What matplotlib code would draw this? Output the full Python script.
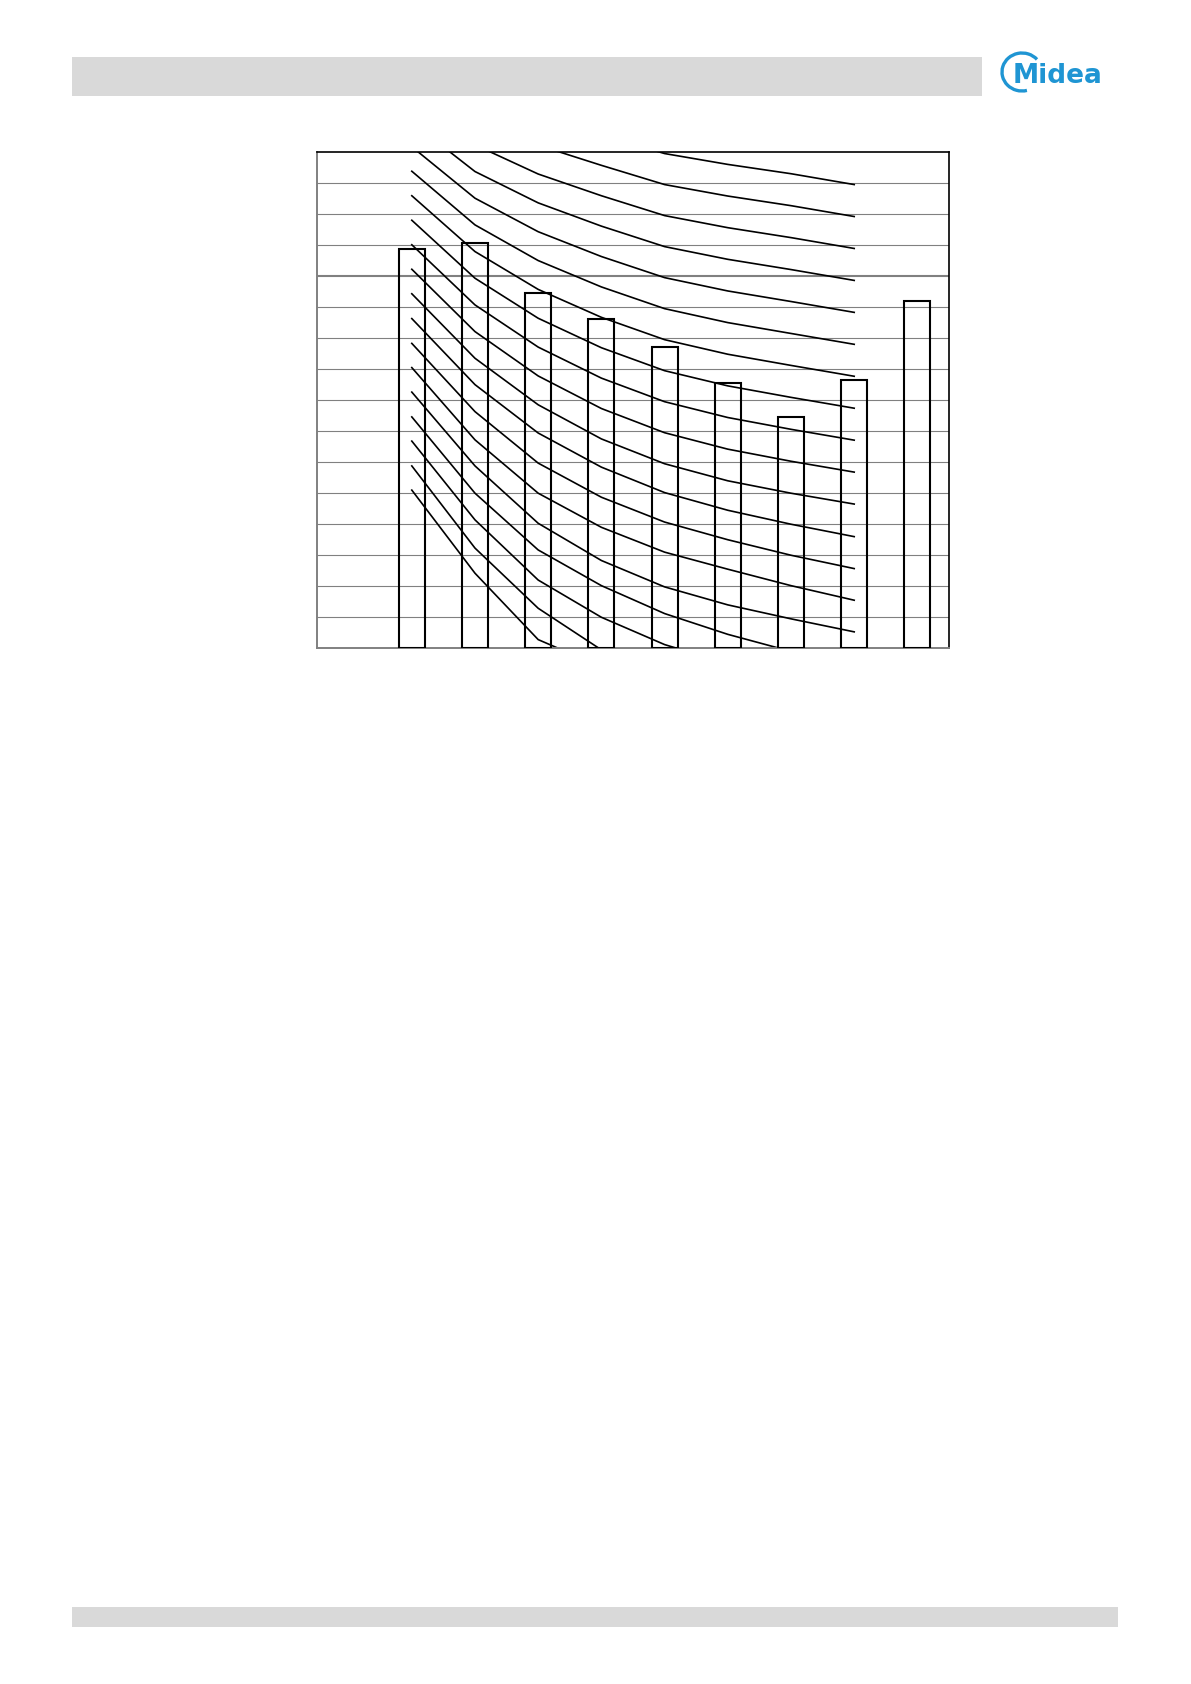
import matplotlib
matplotlib.use('Agg')
import matplotlib.pyplot as plt
from matplotlib.patches import Rectangle, Arc

# bars (category positions 0..8)
bar_pos = [0, 1, 2, 3, 4, 5, 6, 7, 8]
bar_vals = [12.86, 13.07, 11.47, 10.62, 9.70, 8.56, 7.45, 8.66, 11.19]

# curve family, one value per category 0..7 (top curve first)
curve_pos = [0, 1, 2, 3, 4, 5, 6, 7]
curve_00 = [19.33, 17.95, 17.15, 16.55, 15.95, 15.60, 15.30, 14.95]
curve_01 = [18.54, 17.09, 16.22, 15.57, 14.95, 14.58, 14.27, 13.92]
curve_02 = [17.75, 16.23, 15.29, 14.59, 13.95, 13.56, 13.24, 12.89]
curve_03 = [16.96, 15.37, 14.36, 13.61, 12.95, 12.54, 12.21, 11.86]
curve_04 = [16.17, 14.51, 13.43, 12.63, 11.95, 11.52, 11.18, 10.83]
curve_05 = [15.38, 13.65, 12.50, 11.65, 10.95, 10.50, 10.15, 9.80]
curve_06 = [14.59, 12.79, 11.57, 10.67, 9.95, 9.48, 9.12, 8.77]
curve_07 = [13.80, 11.93, 10.64, 9.69, 8.95, 8.46, 8.09, 7.74]
curve_08 = [13.01, 11.07, 9.71, 8.71, 7.95, 7.44, 7.06, 6.71]
curve_09 = [12.22, 10.21, 8.78, 7.73, 6.95, 6.42, 6.03, 5.68]
curve_10 = [11.43, 9.35, 7.85, 6.75, 5.95, 5.40, 5.00, 4.65]
curve_11 = [10.63, 8.50, 6.94, 5.84, 5.02, 4.45, 4.00, 3.60]
curve_12 = [9.83, 7.63, 5.97, 4.87, 4.07, 3.50, 3.00, 2.57]
curve_13 = [9.05, 6.72, 5.00, 3.90, 3.10, 2.55, 2.02, 1.55]
curve_14 = [8.26, 5.88, 4.03, 2.83, 1.98, 1.40, 0.95, 0.53]
curve_15 = [7.46, 5.00, 3.17, 2.02, 1.12, 0.45, -0.10, -0.60]
curve_16 = [6.68, 4.14, 2.20, 1.00, 0.12, -0.50, -1.00, -1.50]
curve_17 = [5.88, 3.23, 1.29, -0.05, -0.90, -1.50, -2.00, -2.50]
curve_18 = [5.10, 2.42, 0.28, -0.60, -1.30, -1.90, -2.40, -2.90]

curves = [curve_00, curve_01, curve_02, curve_03, curve_04, curve_05, curve_06,
          curve_07, curve_08, curve_09, curve_10, curve_11, curve_12, curve_13,
          curve_14, curve_15, curve_16, curve_17, curve_18]

W, H = 1191, 1684
fig = plt.figure(figsize=(W / 100, H / 100), dpi=100)

# page decoration in pixel coordinates
bg = fig.add_axes([0, 0, 1, 1])
bg.set_xlim(0, W)
bg.set_ylim(H, 0)
bg.axis('off')
bg.add_patch(Rectangle((72, 57), 910, 39, color='#d9d9d9', lw=0))
bg.add_patch(Rectangle((72, 1607), 1046, 20, color='#d9d9d9', lw=0))

# logo
logo_blue = '#1f95d3'
bg.add_patch(Arc((1022, 72), 40, 38, theta1=75, theta2=320, color=logo_blue, lw=2.4))
bg.text(1013, 83, 'Midea', color=logo_blue, fontsize=19, fontweight='bold',
        va='baseline', ha='left', family='DejaVu Sans')

# chart
left, right, top, bottom = 317, 949, 152, 648.3
ax = fig.add_axes([left / W, 1 - bottom / H, (right - left) / W, (bottom - top) / H])
ax.set_xlim(-1.5, 8.5)
ax.set_ylim(0, 16)

for y in range(1, 16):
    ax.axhline(y, color='#808080', lw=1.5 if y == 12 else 0.8, zorder=1)

for c in curves:
    ax.plot(curve_pos, c, color='black', lw=1.2, zorder=2)

ax.bar(bar_pos, bar_vals, width=0.41, fill=False, edgecolor='black', linewidth=1.5, zorder=3)

ax.set_xticks([])
ax.set_yticks([])
for side in ['left', 'bottom']:
    ax.spines[side].set_color('#808080')
    ax.spines[side].set_linewidth(1.4)
for side in ['top', 'right']:
    ax.spines[side].set_color('black')
    ax.spines[side].set_linewidth(1.2)

fig.savefig('out.png', dpi=100)
